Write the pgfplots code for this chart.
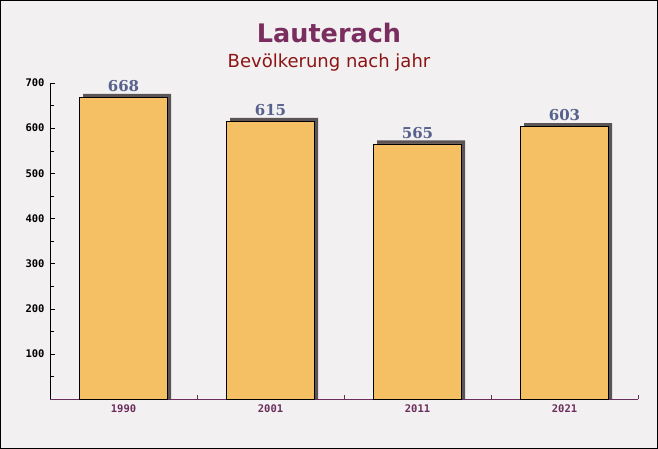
\documentclass[border=0pt]{standalone}
\usepackage{fontspec}
\setmainfont{DejaVu Sans}
\newfontfamily\monof{DejaVu Sans Mono}
\newfontfamily\seriff{DejaVu Serif}
\usepackage{pgfplots}
\usepackage{pgfplotstable}
\pgfplotsset{compat=1.18}

\definecolor{bg}{HTML}{F3F0F2}
\definecolor{titlec}{HTML}{7A2E5F}
\definecolor{subc}{HTML}{8B1414}
\definecolor{xcol}{HTML}{6B2D5C}
\definecolor{barc}{HTML}{F5C064}
\definecolor{shadowc}{HTML}{5A5457}
\definecolor{valc}{HTML}{56618C}

% Einwohner je Jahr
\pgfplotstableread{
x pop
0 668
1 615
2 565
3 603
}\poptable

\begin{document}
\begin{tikzpicture}[x=1pt,y=1pt]
\fill[bg] (0,0) rectangle (658,449);
\draw[black, line width=1pt] (0.5,0.5) rectangle (657.5,448.5);
\node[font=\bfseries\fontsize{25.5}{27}\selectfont, text=titlec] at (329,416) {Lauterach};
\node[font=\fontsize{18}{20}\selectfont, text=subc] at (329,386) {Bevölkerung nach jahr};
\begin{axis}[
    at={(50pt,50pt)}, anchor=south west,
    scale only axis, width=588pt, height=316pt,
    xmin=-0.5, xmax=3.5, ymin=0, ymax=700,
    axis x line*=bottom, axis y line*=left,
    x axis line style={draw=xcol},
    y axis line style={draw=black},
    ybar, bar width=88pt,
    xtick={0,1,2,3},
    xticklabels={1990,2001,2011,2021},
    major x tick style={draw=none},
    minor xtick={0.5,1.5,2.5,3.5},
    minor x tick style={draw=xcol},
    minor tick length=4pt,
    ytick={100,200,...,700},
    minor ytick={50,150,...,650},
    major tick length=5pt,
    tick align=inside,
    ytick style={draw=black},
    /pgf/number format/assume math mode=true,
    x tick label style={font=\monof\bfseries\fontsize{10.5}{11}\selectfont, text=xcol, yshift=-2pt},
    y tick label style={font=\monof\bfseries\fontsize{10.5}{11}\selectfont, text=black, xshift=-2pt},
    clip=false,
]
\addplot[ybar, bar shift=3.5pt, fill=shadowc, draw=none]
    table[x=x, y expr=\thisrow{pop}+8]{\poptable};
\addplot[ybar, bar shift=0pt, fill=barc, draw=black, line width=0.6pt,
    nodes near coords,
    every node near coord/.append style={font=\seriff\bfseries\fontsize{15}{15}\selectfont, text=valc, yshift=2pt}]
    table[x=x, y=pop]{\poptable};
\end{axis}
\end{tikzpicture}
\end{document}
